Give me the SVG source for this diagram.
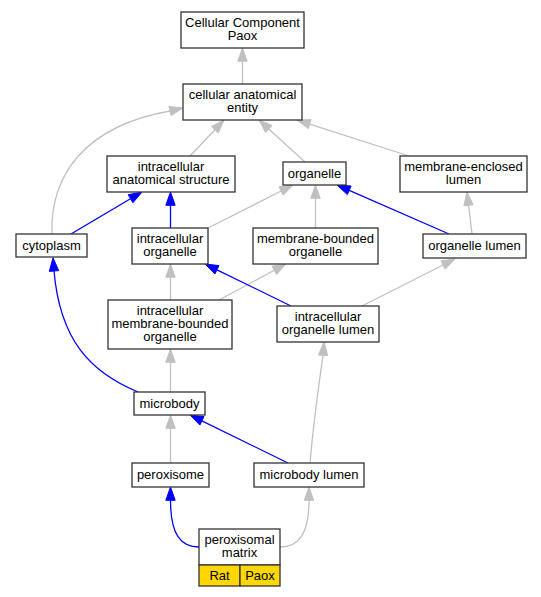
<svg xmlns="http://www.w3.org/2000/svg" width="541" height="597" viewBox="0 0 541 597">
<style>
.n rect{fill:#fff;stroke:#333;stroke-width:1.3}
.n rect.y{fill:#ffd700}
text{font-family:"Liberation Sans",Arial,sans-serif;font-size:13px;fill:#000;text-anchor:middle}
.g{stroke:#c0c0c0;fill:none;stroke-width:1.3}
.ga{fill:#c0c0c0;stroke:#c0c0c0;stroke-width:1}
.b{stroke:#0000ff;fill:none;stroke-width:1.3}
.ba{fill:#0000ff;stroke:#0000ff;stroke-width:1}
</style>
<rect width="541" height="597" fill="#fff"/>
<g id="connectors">
<path class="g" d="M242.5,84 L242.5,61.3"/><polygon class="ga" points="237.8,61.3 242.5,48 247.2,61.3"/>
<path class="g" d="M190,156 L214.9,129.7"/><polygon class="ga" points="218.3,132.9 224,120 211.5,126.5"/>
<path class="g" d="M305,162 L268.8,129"/><polygon class="ga" points="272,125.5 259,120 265.6,132.5"/>
<path class="g" d="M409,156 L309.7,124.1"/><polygon class="ga" points="311.1,119.6 297,120 308.3,128.6"/>
<path class="g" d="M52,234 C50,175 85,126 170,111"/><polygon class="ga" points="171.1,115.6 183,108 168.9,106.4"/>
<path class="g" d="M208,228 L281.1,191"/><polygon class="ga" points="283.2,195.2 293,185 279,186.8"/>
<path class="g" d="M315.5,228 L315.5,198.3"/><polygon class="ga" points="310.8,198.3 315.5,185 320.2,198.3"/>
<path class="g" d="M472,234 L468.6,205.2"/><polygon class="ga" points="473.2,204.7 467,192 463.9,205.8"/>
<path class="g" d="M170.5,300 L170.5,277.3"/><polygon class="ga" points="165.8,277.3 170.5,264 175.2,277.3"/>
<path class="g" d="M219,300 L274.3,270.3"/><polygon class="ga" points="276.5,274.4 286,264 272.1,266.2"/>
<path class="g" d="M362,306 L443.1,265"/><polygon class="ga" points="445.2,269.2 455,259 441,260.8"/>
<path class="g" d="M170.5,392 L170.5,362.3"/><polygon class="ga" points="165.8,362.3 170.5,349 175.2,362.3"/>
<path class="g" d="M310,463 C312,440 318,390 323.05,355.3"/><polygon class="ga" points="327.7,355.6 324,342 318.4,355"/>
<path class="g" d="M170.5,463 L170.5,428.3"/><polygon class="ga" points="165.8,428.3 170.5,415 175.2,428.3"/>
<path class="g" d="M280,547 C298,547 309,535 309,500.3"/><polygon class="ga" points="304.3,500.3 309,487 313.7,500.3"/>
<path class="b" d="M71,234 L130.5,198.8"/><polygon class="ba" points="132.9,202.8 142,192 128.2,194.7"/>
<path class="b" d="M170.5,228 L170.5,205.3"/><polygon class="ba" points="165.8,205.3 170.5,192 175.2,205.3"/>
<path class="b" d="M449,234 L349.2,190.3"/><polygon class="ba" points="351.1,186 337,185 347.3,194.6"/>
<path class="b" d="M291,306 L217,269.8"/><polygon class="ba" points="219,265.6 205,264 214.9,274"/>
<path class="b" d="M138,392 C90,372 60,340 54,271"/><polygon class="ba" points="58.7,270.6 53,257.7 49.3,271.4"/>
<path class="b" d="M288,463 L201.9,420.9"/><polygon class="ba" points="204,416.6 190,415 199.9,425.1"/>
<path class="b" d="M199,547 C181,547 170.5,535 170.5,500.3"/><polygon class="ba" points="165.8,500.3 170.5,487 175.2,500.3"/>
</g>
<g id="n1" class="n"><rect x="181" y="12" width="123" height="36"/><text x="242.5" y="27">Cellular Component</text><text x="242.5" y="40.3">Paox</text></g>
<g id="n2" class="n"><rect x="183" y="84" width="119" height="36"/><text x="242.5" y="99">cellular anatomical</text><text x="242.5" y="112.3">entity</text></g>
<g id="n3" class="n"><rect x="107" y="156" width="128" height="36"/><text x="171" y="171">intracellular</text><text x="171" y="184.3">anatomical structure</text></g>
<g id="n4" class="n"><rect x="283" y="162" width="63" height="23"/><text x="314.5" y="177.5">organelle</text></g>
<g id="n5" class="n"><rect x="400" y="156" width="127" height="36"/><text x="463.5" y="171">membrane-enclosed</text><text x="463.5" y="184.3">lumen</text></g>
<g id="n6" class="n"><rect x="16" y="234" width="71" height="23"/><text x="51.5" y="249.5">cytoplasm</text></g>
<g id="n7" class="n"><rect x="132" y="228" width="76" height="36"/><text x="170" y="243">intracellular</text><text x="170" y="256.3">organelle</text></g>
<g id="n8" class="n"><rect x="253" y="228" width="125" height="36"/><text x="315.5" y="243">membrane-bounded</text><text x="315.5" y="256.3">organelle</text></g>
<g id="n9" class="n"><rect x="423" y="234" width="103" height="24"/><text x="474.5" y="250">organelle lumen</text></g>
<g id="n10" class="n"><rect x="108" y="300" width="124" height="49"/><text x="170" y="314.7">intracellular</text><text x="170" y="328">membrane-bounded</text><text x="170" y="341.3">organelle</text></g>
<g id="n11" class="n"><rect x="277" y="306" width="102" height="36"/><text x="328" y="321">intracellular</text><text x="328" y="334.3">organelle lumen</text></g>
<g id="n12" class="n"><rect x="134" y="392" width="71" height="23"/><text x="169.5" y="407.5">microbody</text></g>
<g id="n13" class="n"><rect x="132" y="463" width="77" height="24"/><text x="170.5" y="479">peroxisome</text></g>
<g id="n14" class="n"><rect x="254" y="463" width="110" height="24"/><text x="309" y="479">microbody lumen</text></g>
<g id="n15" class="n"><rect x="199" y="529" width="81" height="36"/><rect class="y" x="199" y="565" width="41" height="21"/><rect class="y" x="240" y="565" width="40" height="21"/><text x="239.5" y="544">peroxisomal</text><text x="239.5" y="557.3">matrix</text><text x="219.5" y="580">Rat</text><text x="260" y="580">Paox</text></g>
</svg>
